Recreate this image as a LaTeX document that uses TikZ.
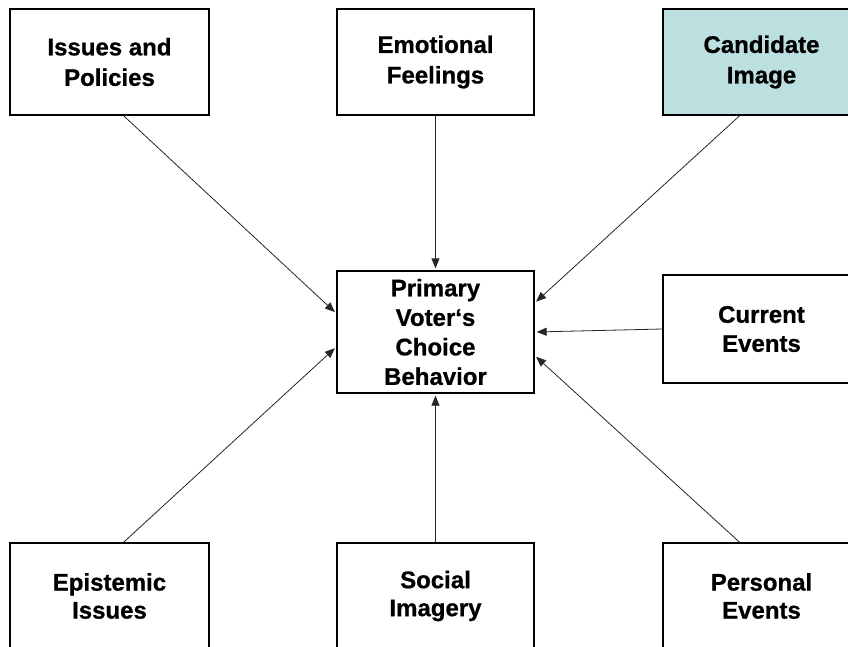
\documentclass[tikz,border=0pt]{standalone}
\usepackage{fontspec}
\setmainfont{Liberation Sans}[BoldFeatures={FakeBold=0.8}]
\usetikzlibrary{calc,arrows.meta}
\definecolor{imgblue}{RGB}{188,223,224}
\tikzset{
  factor/.style={draw=black, line width=1.3pt, fill=white, inner sep=0pt,
    minimum width=197pt, minimum height=106pt, align=center,
    font=\fontsize{24}{30.5}\selectfont\bfseries},
  link/.style={line width=0.8pt, draw=black!85, -{Triangle[length=10pt,width=8pt]}, shorten >=2pt}
}
\begin{document}
\begin{tikzpicture}[x=1pt,y=-1pt]
\useasboundingbox (0,0) rectangle (848,646);
\begin{scope}
\clip (0,0) rectangle (848,646);
% outer factors
\node[factor, minimum width=199pt] (issues) at (109.5,62) {Issues and\\Policies};
\node[factor] (emotional) at (435.5,62) {Emotional\\Feelings};
\node[factor, fill=imgblue] (candidate) at (761.5,62) {Candidate\\Image};
\node[factor, minimum height=108pt, font=\fontsize{24}{29}\selectfont\bfseries] (current) at (761.5,329) {Current\\Events};
\node[factor, minimum width=199pt, font=\fontsize{24}{28}\selectfont\bfseries] (epistemic) at (109.5,596) {Epistemic\\Issues};
\node[factor, font=\fontsize{24}{28}\selectfont\bfseries] (social) at (435.5,596) {Social\\Imagery};
\node[factor, font=\fontsize{24}{28}\selectfont\bfseries] (personal) at (761.5,596) {Personal\\Events};
% central outcome
\node[factor, minimum height=122pt, font=\fontsize{24}{29.5}\selectfont\bfseries] (choice) at (435.5,332) {Primary\\Voter‘s\\Choice\\Behavior};
% influences
\draw[link] ($(issues.south west)!0.57!(issues.south east)$) -- ($(choice.north west)!0.35!(choice.south west)$);
\draw[link] (emotional.south) -- (choice.north);
\draw[link] ($(candidate.south west)!0.39!(candidate.south east)$) -- ($(choice.north east)!0.265!(choice.south east)$);
\draw[link] (current.west) -- (choice.east);
\draw[link] ($(personal.north west)!0.39!(personal.north east)$) -- ($(choice.north east)!0.69!(choice.south east)$);
\draw[link] (social.north) -- (choice.south);
\draw[link] ($(epistemic.north west)!0.57!(epistemic.north east)$) -- ($(choice.north west)!0.62!(choice.south west)$);
\end{scope}
\end{tikzpicture}
\end{document}
